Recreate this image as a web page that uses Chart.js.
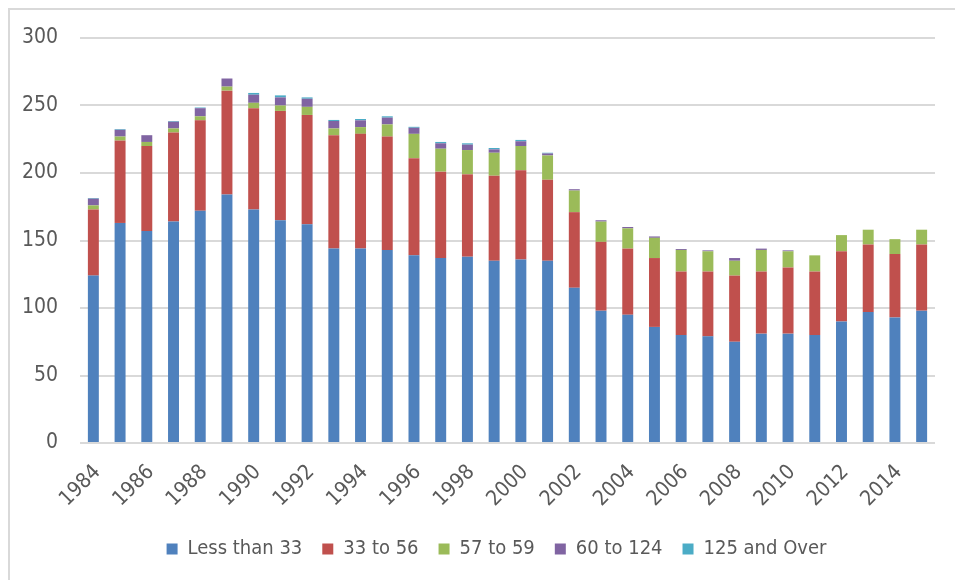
<!DOCTYPE html>
<html>
<head>
<meta charset="utf-8">
<script src="https://cdn.jsdelivr.net/npm/chart.js@4"></script>
<style>
  html, body { margin: 0; padding: 0; background: #fff; overflow: hidden; }
  #wrap { position: relative; width: 955px; height: 580px; }
  #frame { position: absolute; left: 8px; top: 8px; width: 1000px; height: 1000px;
           border-left: 2px solid #d9d9d9; border-top: 2px solid #d9d9d9; box-sizing: border-box; }
  canvas { position: absolute; left: 0; top: 0; }
</style>
</head>
<body>
<div id="wrap">
  <div id="frame"></div>
  <canvas id="c" width="955" height="580"></canvas>
</div>
<script>
const years = ["1984","1985","1986","1987","1988","1989","1990","1991","1992","1993","1994","1995","1996","1997","1998","1999","2000","2001","2002","2003","2004","2005","2006","2007","2008","2009","2010","2011","2012","2013","2014","2015"];
const lessThan33 = [124,163,157,164,172,184,173,165,162,144,144,143,139,137,138,135,136,135,115,98,95,86,80,79,75,81,81,80,90,97,93,98];
const from33to56 = [49,61,63,66,67,77,75,81,81,84,85,84,72,64,61,63,66,60,56,51,49,51,47,48,49,46,49,47,52,50,47,49];
const from57to59 = [3,3,3,3,3,3,4,4,6,5,5,9,18,17,18,17,18,18,16,15,15,15,16,15,11,16,12,12,12,11,11,11];
const from60to124 = [5,5,5,5,6,6,6,6,6,5.5,5,5,4.5,4,4,2.5,3.5,1.5,1,1,1,1,0.7,0.7,2,1,0.7,0,0,0,0,0];
const over125 = [0.5,0.5,0,0.5,0.5,0,1.3,1.5,1,0.8,1,1,0.7,1,1,1,1,0.5,0,0,0,0,0,0,0,0,0,0,0,0,0,0];
const seriesNames = ["Less than 33","33 to 56","57 to 59","60 to 124","125 and Over"];
const yTicks = [0,50,100,150,200,250,300];

const colors = ["#4F81BD","#C0504D","#9BBB59","#8064A2","#4BACC6"];
const FONT = "'Liberation Sans Narrow','Arial Narrow','DejaVu Sans Condensed',sans-serif";
const seriesData = [lessThan33, from33to56, from57to59, from60to124, over125];

const datasets = seriesNames.map((name, i) => ({
  label: name,
  data: seriesData[i],
  backgroundColor: colors[i],
  borderWidth: 0,
  barPercentage: 0.41,
  categoryPercentage: 1.0
}));

const shiftLegend = {
  id: 'shiftLegend',
  afterLayout(chart) {
    if (chart.legend) { chart.legend.left += 58; }
  }
};

new Chart(document.getElementById('c'), {
  type: 'bar',
  data: { labels: years, datasets },
  plugins: [shiftLegend],
  options: {
    responsive: false,
    animation: false,
    layout: { padding: { top: 38, right: 20, left: 0, bottom: 11 } },
    plugins: {
      tooltip: { enabled: false },
      legend: {
        position: 'bottom',
        labels: {
          boxWidth: 11, boxHeight: 11, padding: 20, color: '#595959',
          font: { family: FONT, size: 20 }
        }
      }
    },
    scales: {
      x: {
        stacked: true,
        grid: { display: false },
        border: { display: false },
        ticks: {
          autoSkip: false, maxRotation: 45, minRotation: 45, labelOffset: 4,
          color: '#595959', font: { family: FONT, size: 21 }, padding: 9,
          callback: function(v, i) { return i % 2 === 0 ? years[i] : ''; }
        },
        afterFit: function(s) { s.height = 76; }
      },
      y: {
        stacked: true,
        min: 0, max: 300,
        afterBuildTicks: function(s) { s.ticks = yTicks.map(v => ({ value: v })); },
        grid: { color: '#d9d9d9', lineWidth: 2, drawTicks: false },
        border: { display: false },
        ticks: { color: '#595959', font: { family: FONT, size: 21 }, padding: 22 },
        afterFit: function(s) { s.width = 80; }
      }
    }
  }
});
</script>
</body>
</html>
